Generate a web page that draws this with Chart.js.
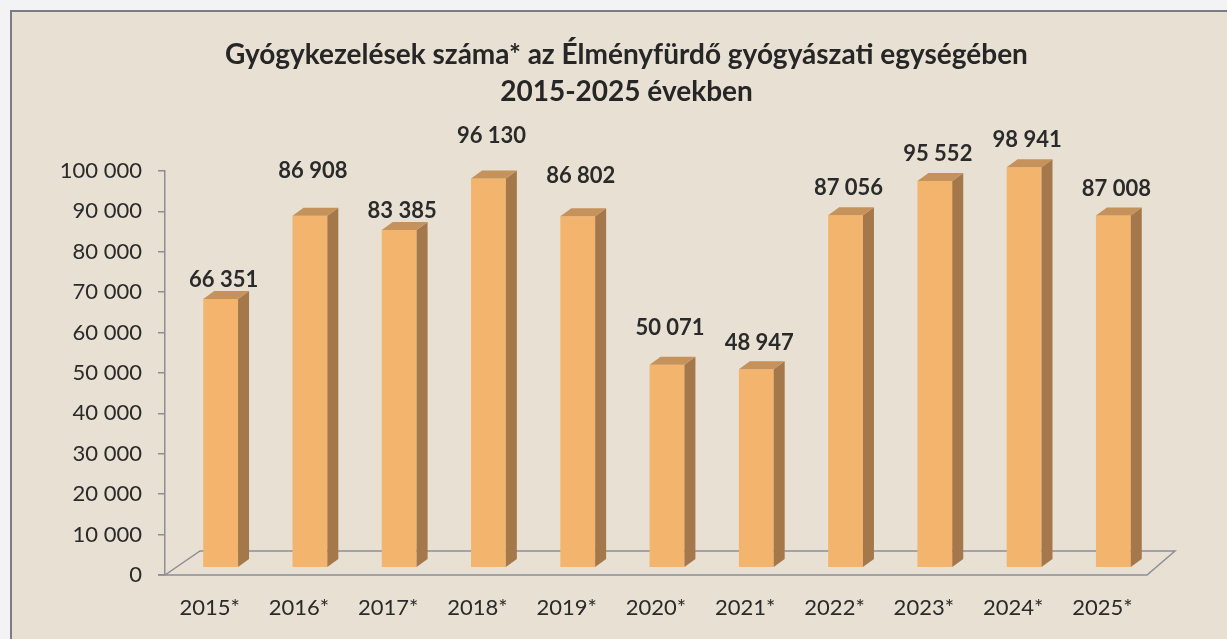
<!DOCTYPE html>
<html>
<head>
<meta charset="utf-8">
<script src="https://cdn.jsdelivr.net/npm/chart.js@4"></script>
<style>
  html, body { margin: 0; padding: 0; background: #f3f3f5; overflow: hidden; }
  #wrap { position: relative; width: 1227px; height: 639px; }
  #frame {
    position: absolute; left: 10px; top: 10px; width: 1240px; height: 660px;
    border: 2px solid #7b7b84; background: #e7e0d3;
  }
  #chart { position: absolute; left: 0; top: 0; }
</style>
</head>
<body>
<div id="wrap">
  <div id="frame"></div>
  <canvas id="chart" width="1227" height="639"></canvas>
</div>
<script>
const years = ['2015*', '2016*', '2017*', '2018*', '2019*', '2020*', '2021*', '2022*', '2023*', '2024*', '2025*'];
const treatments = [66351, 86908, 83385, 96130, 86802, 50071, 48947, 87056, 95552, 98941, 87008];
const yTicks = [0, 10000, 20000, 30000, 40000, 50000, 60000, 70000, 80000, 90000, 100000];

// how far (px) each value label sits above its bar, as placed in the original
const labelLift = [19, 45, 19, 43, 40, 37, 26, 27, 27, 27, 27];

// 3D look
const depthX = 11, depthY = 8;       // bar depth
const floorDepthY = 24;              // floor depth
const barShift = 11 / 89.27;         // bars sit a bit behind the category centre (in category units)
const baseLift = 1980;               // bars' front face starts above the floor front edge (value units)

const fmt = v => String(v).replace(/\B(?=(\d{3})+(?!\d))/g, ' ');

const bar3d = {
  id: 'bar3d',
  beforeDatasetsDraw(chart) {
    const { ctx, chartArea } = chart;
    const y0 = chart.scales.y.getPixelForValue(0);
    const l = chartArea.left, r = chartArea.right;
    ctx.save();
    ctx.strokeStyle = '#8d8d98';
    ctx.lineWidth = 1.5;
    ctx.beginPath();
    ctx.moveTo(l - 7, y0);
    ctx.lineTo(r, y0);
    ctx.lineTo(r + 28, y0 - floorDepthY);
    ctx.lineTo(l + 35, y0 - floorDepthY);
    ctx.lineTo(l, y0);
    ctx.stroke();
    ctx.restore();
  },
  afterDatasetsDraw(chart) {
    const { ctx } = chart;
    const meta = chart.getDatasetMeta(0);
    ctx.save();
    meta.data.forEach((el, i) => {
      const p = el.getProps(['x', 'y', 'base', 'width'], true);
      const xl = p.x - p.width / 2, xr = p.x + p.width / 2;
      // side face
      ctx.fillStyle = '#a4784a';
      ctx.beginPath();
      ctx.moveTo(xr, p.y);
      ctx.lineTo(xr + depthX, p.y - depthY);
      ctx.lineTo(xr + depthX, p.base - depthY);
      ctx.lineTo(xr, p.base);
      ctx.closePath();
      ctx.fill();
      // top face
      ctx.fillStyle = '#c4925a';
      ctx.beginPath();
      ctx.moveTo(xl, p.y);
      ctx.lineTo(xl + depthX, p.y - depthY);
      ctx.lineTo(xr + depthX, p.y - depthY);
      ctx.lineTo(xr, p.y);
      ctx.closePath();
      ctx.fill();
      // value label
      ctx.fillStyle = '#2a2a2a';
      ctx.font = 'bold 22px Lato';
      ctx.textAlign = 'center';
      ctx.textBaseline = 'middle';
      ctx.fillText(fmt(treatments[i]), p.x + 3, p.y - labelLift[i]);
    });
    ctx.restore();
  }
};

const ctx = document.getElementById('chart').getContext('2d');

new Chart(ctx, {
  type: 'bar',
  data: {
    labels: years,
    datasets: [{
      label: 'Gyógykezelések száma',
      data: treatments.map((v, i) => ({ x: i, y: v })),
      xAxisID: 'xb',
      yAxisID: 'yb',
      backgroundColor: '#f3b46e',
      borderWidth: 0,
      barPercentage: 0.39,
      categoryPercentage: 1,
      clip: false
    }]
  },
  options: {
    responsive: false,
    animation: false,
    layout: { padding: { left: 26, right: 0, top: 0, bottom: 0 } },
    scales: {
      x: {
        type: 'category',
        offset: true,
        grid: { display: false, drawTicks: false },
        border: { display: false },
        ticks: { padding: 20, color: '#2a2a2a', font: { family: 'Lato', size: 22 } },
        afterFit: s => { s.height = 64; }
      },
      xb: {
        type: 'linear',
        display: false,
        offset: false,
        min: -0.5 - barShift,
        max: years.length - 0.5 - barShift,
        ticks: { includeBounds: false, stepSize: 1 }
      },
      y: {
        min: 0,
        max: 100000,
        afterBuildTicks: s => { s.ticks = yTicks.map(v => ({ value: v })); },
        grid: { drawOnChartArea: false, drawTicks: true, tickLength: 7, color: '#8d8d98', lineWidth: 1.5 },
        border: { display: true, color: '#8d8d98', width: 1.5 },
        ticks: {
          padding: 16,
          color: '#2a2a2a',
          font: { family: 'Lato', size: 22 },
          callback: v => fmt(v)
        },
        afterFit: s => { s.width = 139; }
      },
      yb: {
        type: 'linear',
        position: 'right',
        display: true,
        min: -baseLift,
        max: 100000 - baseLift,
        grid: { display: false, drawTicks: false },
        border: { display: false },
        ticks: { display: false },
        afterFit: s => { s.width = 80; }
      }
    },
    plugins: {
      legend: { display: false },
      tooltip: { enabled: false },
      title: {
        display: true,
        text: ['Gyógykezelések száma* az Élményfürdő gyógyászati egységében', '2015-2025 években'],
        color: '#262626',
        font: { family: 'Lato', size: 28, weight: 'bold', lineHeight: 1.32 },
        padding: { top: 36.5, bottom: 60.5 }
      }
    }
  },
  plugins: [bar3d]
});
</script>
</body>
</html>
